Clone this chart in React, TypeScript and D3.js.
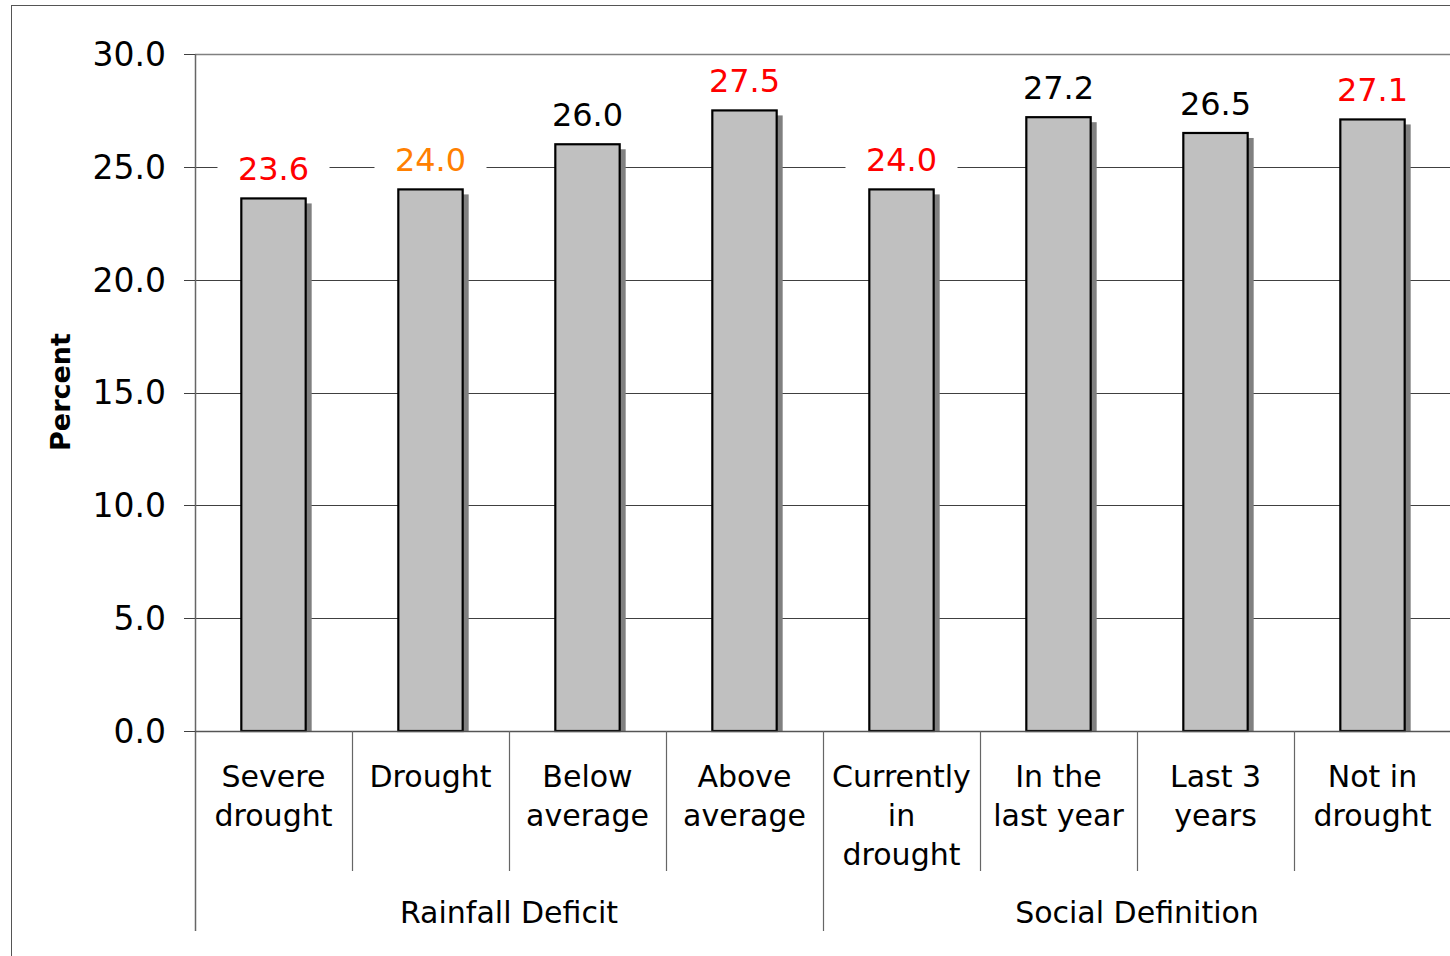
import React from "react";
import * as d3 from "d3";

// chart data
const categories = [
  "Severe drought",
  "Drought",
  "Below average",
  "Above average",
  "Currently in drought",
  "In the last year",
  "Last 3 years",
  "Not in drought",
];
const categoryLines = [
  ["Severe", "drought"],
  ["Drought"],
  ["Below", "average"],
  ["Above", "average"],
  ["Currently", "in", "drought"],
  ["In the", "last year"],
  ["Last 3", "years"],
  ["Not in", "drought"],
];
const values = [23.6, 24.0, 26.0, 27.5, 24.0, 27.2, 26.5, 27.1];
const groupNames = ["Rainfall Deficit", "Social Definition"];
const groupSizes = [4, 4];
const yTicks = [0, 5, 10, 15, 20, 25, 30];

// label colours, one per bar
const labelColors = ["#ff0000", "#ff8000", "#000", "#ff0000", "#ff0000", "#000", "#000", "#ff0000"];

const W = 1450;
const H = 956;
const left = 195;
const right = 1451;
const top = 54;
const bottom = 731;
const font = "'DejaVu Sans', Verdana, sans-serif";

export default function App() {
  const x = d3.scaleBand<string>().domain(categories).range([left, right]).padding(0);
  const y = d3.scaleLinear().domain([0, 30]).range([bottom, top]);
  const bw = x.bandwidth() * 0.41;

  // group boundaries, in category index
  const groupStarts = d3.cumsum([0, ...groupSizes]);

  return (
    <svg
      width={W}
      height={H}
      style={{ position: "absolute", left: 0, top: 0, background: "#fff" }}
      fontFamily={font}
    >
      {/* outer frame */}
      <rect x={11.5} y={5.5} width={W + 20} height={H + 20} fill="none" stroke="#555" strokeWidth={1} />

      {/* gridlines */}
      {yTicks.slice(1, -1).map((t) => (
        <line key={t} x1={left} x2={right} y1={Math.round(y(t)) + 0.5} y2={Math.round(y(t)) + 0.5} stroke="#404040" strokeWidth={1} />
      ))}

      {/* bars with shadow */}
      {values.map((v, i) => {
        const cx = (x(categories[i]) as number) + x.bandwidth() / 2;
        return (
          <g key={i}>
            <rect x={cx - bw / 2 + 6} y={y(v) + 5} width={bw} height={bottom - y(v) - 5} fill="#808080" />
            <rect x={cx - bw / 2} y={y(v)} width={bw} height={bottom - y(v)} fill="#c0c0c0" stroke="#000" strokeWidth={2.2} />
          </g>
        );
      })}

      {/* value labels */}
      {values.map((v, i) => {
        const cx = (x(categories[i]) as number) + x.bandwidth() / 2;
        const base = y(v) - 18;
        return (
          <g key={i}>
            <rect x={cx - 56} y={base - 32} width={112} height={46} fill="#fff" />
            <text x={cx} y={base} textAnchor="middle" fontSize={32} fill={labelColors[i]}>
              {v.toFixed(1)}
            </text>
          </g>
        );
      })}

      {/* plot top border */}
      <line x1={left} x2={right} y1={top + 0.5} y2={top + 0.5} stroke="#808080" strokeWidth={1.5} />
      {/* y axis */}
      <line x1={left + 0.5} x2={left + 0.5} y1={top} y2={931} stroke="#666" strokeWidth={1.5} />
      {yTicks.map((t) => (
        <g key={t}>
          <line x1={184} x2={left} y1={Math.round(y(t)) + 0.5} y2={Math.round(y(t)) + 0.5} stroke="#404040" strokeWidth={1} />
          <text x={166} y={y(t)} dy="0.36em" textAnchor="end" fontSize={33} fill="#000">
            {t.toFixed(1)}
          </text>
        </g>
      ))}
      {/* x axis baseline */}
      <line x1={left} x2={right} y1={bottom + 0.5} y2={bottom + 0.5} stroke="#555" strokeWidth={1.5} />

      {/* category separators */}
      {categories.map((c, i) => {
        if (i === 0) return null;
        const xx = Math.round(x(c) as number) + 0.5;
        const isGroup = groupStarts.includes(i);
        return <line key={c} x1={xx} x2={xx} y1={bottom} y2={isGroup ? 931 : 871} stroke="#666" strokeWidth={1.2} />;
      })}

      {/* category labels */}
      {categories.map((c, i) => {
        const cx = (x(c) as number) + x.bandwidth() / 2;
        return (
          <text key={c} x={cx} textAnchor="middle" fontSize={30} fill="#000">
            {categoryLines[i].map((ln, j) => (
              <tspan key={j} x={cx} y={787 + j * 39}>
                {ln}
              </tspan>
            ))}
          </text>
        );
      })}

      {/* group labels */}
      {groupNames.map((g, gi) => {
        const x0 = x(categories[groupStarts[gi]]) as number;
        const lastCat = categories[groupStarts[gi + 1] - 1];
        const x1 = (x(lastCat) as number) + x.bandwidth();
        return (
          <text key={g} x={(x0 + x1) / 2} y={923} textAnchor="middle" fontSize={30} fill="#000">
            {g}
          </text>
        );
      })}

      {/* y axis title */}
      <text
        transform="translate(70,392) rotate(-90)"
        textAnchor="middle"
        fontSize={27}
        fontWeight="bold"
        fill="#000"
      >
        Percent
      </text>
    </svg>
  );
}
